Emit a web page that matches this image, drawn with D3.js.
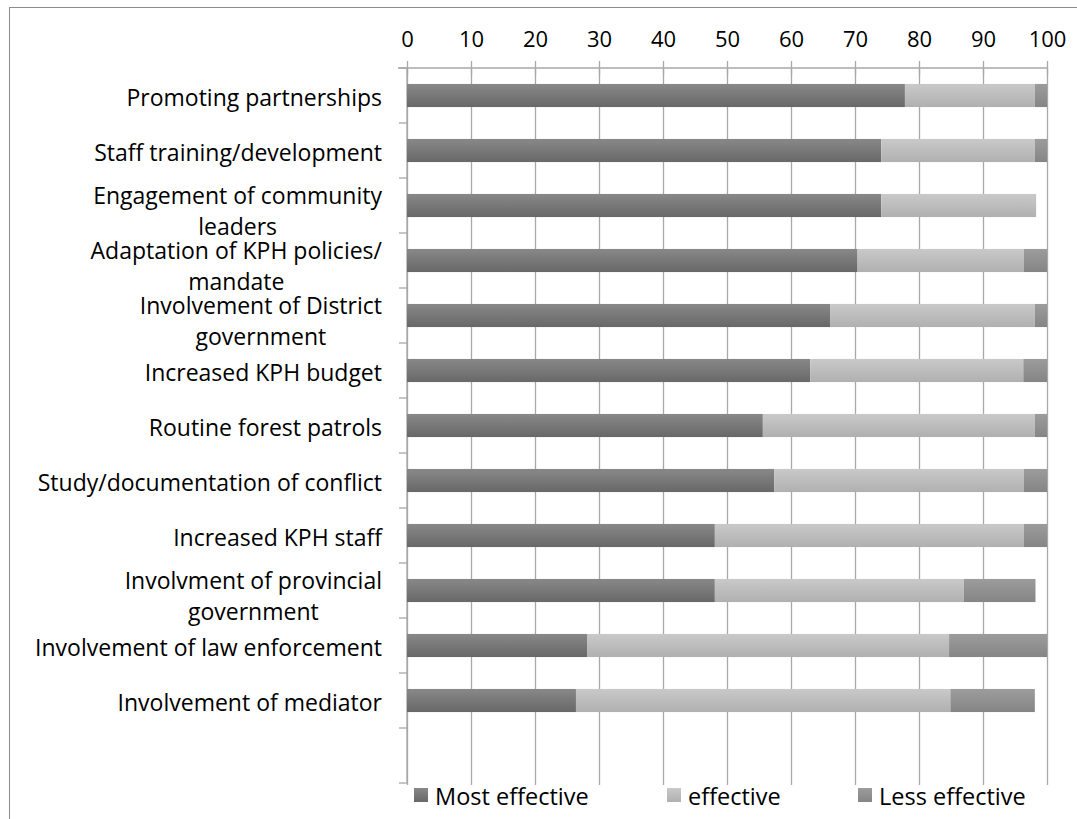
<!DOCTYPE html>
<head>
  <meta charset="utf-8">
  <style>
    body { margin: 0; background: #fff; font-family: "Open Sans", sans-serif; }
    text { fill: #000; }
    .grid line { stroke: #a8a8a8; stroke-width: 1.3; }
    .grid path { display: none; }
    .axis path, .axis line { stroke: #a8a8a8; stroke-width: 1.3; }
  </style>
</head>
<body>
  <svg width="1077" height="819"></svg>
  <script src="https://d3js.org/d3.v7.min.js"></script>
  <script>

  // data (percent of respondents)
  var categories = [
    "Promoting partnerships",
    "Staff training/development",
    "Engagement of community\nleaders",
    "Adaptation of KPH policies/\nmandate",
    "Involvement of District\ngovernment",
    "Increased KPH budget",
    "Routine forest patrols",
    "Study/documentation of conflict",
    "Increased KPH staff",
    "Involvment of provincial\ngovernment",
    "Involvement of law enforcement",
    "Involvement of mediator"
  ];
  var mostEffective = [77.8, 74.1, 74.1, 70.4, 66.1, 63.0, 55.6, 57.4, 48.1, 48.1, 28.2, 26.4];
  var effective     = [20.3, 24.0, 24.2, 26.0, 32.0, 33.3, 42.5, 39.0, 48.3, 38.9, 56.5, 58.5];
  var lessEffective = [1.9, 1.9, 0, 3.6, 1.9, 3.7, 1.9, 3.6, 3.6, 11.2, 15.3, 13.2];
  var seriesNames = ["Most effective", "effective", "Less effective"];
  var tickLabels = [0, 10, 20, 30, 40, 50, 60, 70, 80, 90, 100];

  var rows = categories.map(function(c, i) {
    return { cat: c, "Most effective": mostEffective[i], "effective": effective[i], "Less effective": lessEffective[i] };
  });

  var svg = d3.select("svg");

  // outer chart frame
  svg.append("rect")
      .attr("x", 9.5).attr("y", 7.5)
      .attr("width", 1200).attr("height", 900)
      .attr("fill", "none").attr("stroke", "#8c8c8c").attr("stroke-width", 1);

  var defs = svg.append("defs");
  var grads = [["#888888", "#686868"], ["#c9c9c9", "#b0b0b0"], ["#9c9c9c", "#858585"]];
  grads.forEach(function(g, i) {
    var lg = defs.append("linearGradient").attr("id", "g" + i)
        .attr("x1", 0).attr("y1", 0).attr("x2", 0).attr("y2", 1);
    lg.append("stop").attr("offset", "0%").attr("stop-color", g[0]);
    lg.append("stop").attr("offset", "100%").attr("stop-color", g[1]);
  });

  var plotTop = 68, plotBottom = 783, plotLeft = 407, plotRight = 1047;

  var x = d3.scaleLinear().domain([0, 100]).range([plotLeft, plotRight]);
  // one empty slot after the last category, as in the original
  var y = d3.scaleBand().domain(categories.concat([" "])).range([plotTop, plotBottom]);
  var barH = y.bandwidth() * 0.42;

  // vertical gridlines
  svg.append("g").attr("class", "grid")
      .attr("transform", "translate(0," + plotTop + ")")
      .call(d3.axisBottom(x).tickValues(tickLabels).tickSize(plotBottom - plotTop + 2).tickFormat(""));

  // top axis with crossing ticks
  var xAxis = svg.append("g").attr("class", "axis")
      .attr("transform", "translate(0," + plotTop + ")")
      .call(d3.axisTop(x).tickValues(tickLabels).tickSize(7).tickSizeOuter(0).tickPadding(14));
  xAxis.select(".domain").attr("d", "M" + (plotLeft - 9) + ",0H" + plotRight);
  xAxis.selectAll(".tick line").attr("y1", -7).attr("y2", 7);
  xAxis.selectAll(".tick text")
      .attr("fill", "#000")
      .attr("y", -21)
      .style("font-size", "22px")
      .style("font-family", "'Open Sans', sans-serif");

  // left axis: ticks between categories
  var yAxis = svg.append("g").attr("class", "axis");
  yAxis.append("line").attr("x1", plotLeft).attr("x2", plotLeft).attr("y1", plotTop).attr("y2", plotBottom);
  yAxis.selectAll(".yt").data(d3.range(y.domain().length + 1)).enter().append("line")
      .attr("x1", plotLeft - 8).attr("x2", plotLeft)
      .attr("y1", function(i) { return plotTop + i * y.step(); })
      .attr("y2", function(i) { return plotTop + i * y.step(); });

  // stacked bars
  var stack = d3.stack().keys(seriesNames);
  var layers = svg.append("g").selectAll("g")
      .data(stack(rows))
      .enter().append("g")
        .attr("fill", function(d, i) { return "url(#g" + i + ")"; });

  layers.selectAll("rect")
      .data(function(d) { return d; })
      .enter().append("rect")
        .attr("x", function(d) { return x(d[0]); })
        .attr("width", function(d) { return x(d[1]) - x(d[0]); })
        .attr("y", function(d) { return y(d.data.cat) + (y.bandwidth() - barH) / 2; })
        .attr("height", barH);

  // category labels (baselines relative to the bar centre)
  var labels = svg.append("g").selectAll("text")
      .data(categories)
      .enter().append("text")
        .style("font-size", "23px")
        .attr("transform", function(d) { return "translate(382," + (y(d) + y.bandwidth() / 2) + ")"; });

  labels.each(function(d) {
    var lines = d.split("\n");
    var t = d3.select(this);
    var first = t.append("tspan")
        .attr("text-anchor", "end")
        .attr("x", 0)
        .attr("y", lines.length > 1 ? -1.5 : 10.5)
        .text(lines[0]);
    if (lines.length > 1) {
      var w0 = first.node().getComputedTextLength();
      t.append("tspan")
          .attr("text-anchor", "middle")
          .attr("x", -w0 / 2)
          .attr("y", 29.5)
          .text(lines[1]);
    }
  });

  // legend
  var legendX = [414, 667, 858];
  var legend = svg.append("g").selectAll("g")
      .data(seriesNames)
      .enter().append("g")
        .attr("transform", function(d, i) { return "translate(" + legendX[i] + ",788)"; });
  legend.append("rect")
      .attr("width", 14).attr("height", 14)
      .attr("fill", function(d, i) { return "url(#g" + i + ")"; });
  legend.append("text")
      .attr("x", 21).attr("y", 17)
      .style("font-size", "23.5px")
      .text(function(d) { return d; });

  </script>
</body>
</html>
